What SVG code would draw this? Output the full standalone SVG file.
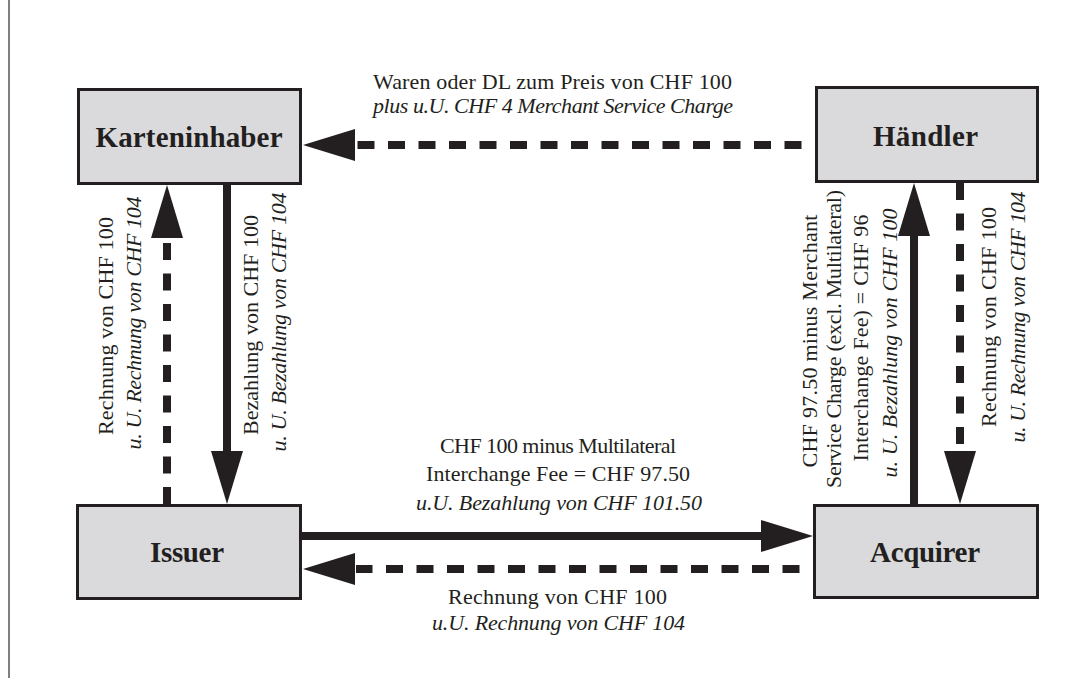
<svg xmlns="http://www.w3.org/2000/svg" xmlns:xlink="http://www.w3.org/1999/xlink" width="1090" height="678" viewBox="0 0 1090 678">
<style>
.box{fill:#dadadc;stroke:#231f20;stroke-width:3}
.lbl{font-family:"Liberation Serif",serif;font-weight:bold;font-size:29px;fill:#231f20;text-anchor:middle}
.t{font-family:"Liberation Serif",serif;font-size:22px;fill:#231f20;text-anchor:middle}
.i{font-style:italic}
.solid{stroke:#231f20;stroke-width:8;fill:none}
.dash{stroke:#231f20;stroke-width:8;fill:none;stroke-dasharray:17 13.5}
.head{fill:#231f20}
</style>
<defs>
<path id="hh" d="M0,0 L-52,-16 L-52,16 Z"/>
<path id="hv" d="M0,0 L-53,-16 L-53,16 Z"/>
</defs>
<rect width="1090" height="678" fill="#ffffff"/>
<line x1="9" y1="0" x2="9" y2="678" stroke="#555" stroke-width="1.5"/>

<g id="connectors">
  <!-- Händler -> Karteninhaber (dashed) -->
  <path class="dash" d="M815,145 L356,145" stroke-dashoffset="17"/>
  <use xlink:href="#hh" class="head" transform="translate(303,145) rotate(180)"/>
  <!-- Acquirer -> Issuer (dashed) -->
  <path class="dash" d="M813,569 L356,569" stroke-dashoffset="17"/>
  <use xlink:href="#hh" class="head" transform="translate(303,569) rotate(180)"/>
  <!-- Issuer -> Acquirer (solid) -->
  <path class="solid" d="M302,536 L762,536"/>
  <use xlink:href="#hh" class="head" transform="translate(813,536)"/>
  <!-- Issuer -> Karteninhaber (dashed up) -->
  <path class="dash" d="M167,504 L167,237"/>
  <use xlink:href="#hv" class="head" transform="translate(167,185) rotate(-90)"/>
  <!-- Karteninhaber -> Issuer (solid down) -->
  <path class="solid" d="M227,185 L227,452"/>
  <use xlink:href="#hv" class="head" transform="translate(227,504) rotate(90)"/>
  <!-- Acquirer -> Händler (solid up) -->
  <path class="solid" d="M914,504 L914,235"/>
  <use xlink:href="#hv" class="head" transform="translate(914,183) rotate(-90)"/>
  <!-- Händler -> Acquirer (dashed down) -->
  <path class="dash" d="M960,183 L960,452"/>
  <use xlink:href="#hv" class="head" transform="translate(960,504) rotate(90)"/>
</g>

<g id="karteninhaber">
  <rect class="box" x="78.5" y="89.5" width="222" height="94"/>
  <text class="lbl" x="189" y="147" textLength="187">Karteninhaber</text>
</g>
<g id="haendler">
  <rect class="box" x="816.5" y="87.5" width="221" height="94"/>
  <text class="lbl" x="925.5" y="146" textLength="105">Händler</text>
</g>
<g id="issuer">
  <rect class="box" x="77.5" y="505.5" width="223" height="93"/>
  <text class="lbl" x="187" y="562" textLength="74">Issuer</text>
</g>
<g id="acquirer">
  <rect class="box" x="814.5" y="505.5" width="223" height="92"/>
  <text class="lbl" x="925" y="562" textLength="110">Acquirer</text>
</g>

<g id="labels">
  <text class="t" x="552.5" y="89" textLength="359">Waren oder DL zum Preis von CHF 100</text>
  <text class="t i" x="553" y="113" textLength="360">plus u.U. CHF 4 Merchant Service Charge</text>

  <text class="t" x="558" y="453" textLength="236">CHF 100 minus Multilateral</text>
  <text class="t" x="558" y="481" textLength="264">Interchange Fee = CHF 97.50</text>
  <text class="t i" x="559" y="510" textLength="286">u.U. Bezahlung von CHF 101.50</text>

  <text class="t" x="557.5" y="604" textLength="219">Rechnung von CHF 100</text>
  <text class="t i" x="558.5" y="630" textLength="253">u.U. Rechnung von CHF 104</text>

  <text class="t" transform="translate(113,326) rotate(-90)" textLength="218">Rechnung von CHF 100</text>
  <text class="t i" transform="translate(141,323) rotate(-90)" textLength="253">u. U. Rechnung von CHF 104</text>
  <text class="t" transform="translate(258,325) rotate(-90)" textLength="220">Bezahlung von CHF 100</text>
  <text class="t i" transform="translate(286,322) rotate(-90)" textLength="259">u. U. Bezahlung von CHF 104</text>

  <text class="t" transform="translate(817,341) rotate(-90)" textLength="253">CHF 97.50 minus Merchant</text>
  <text class="t" transform="translate(841,339) rotate(-90)" textLength="298">Service Charge (excl. Multilateral)</text>
  <text class="t" transform="translate(868,338) rotate(-90)" textLength="247">Interchange Fee) = CHF 96</text>
  <text class="t i" transform="translate(897,343) rotate(-90)" textLength="269">u. U. Bezahlung von CHF 100</text>

  <text class="t" transform="translate(996,317) rotate(-90)" textLength="220">Rechnung von CHF 100</text>
  <text class="t i" transform="translate(1025,317) rotate(-90)" textLength="251">u. U. Rechnung von CHF 104</text>
</g>
</svg>
